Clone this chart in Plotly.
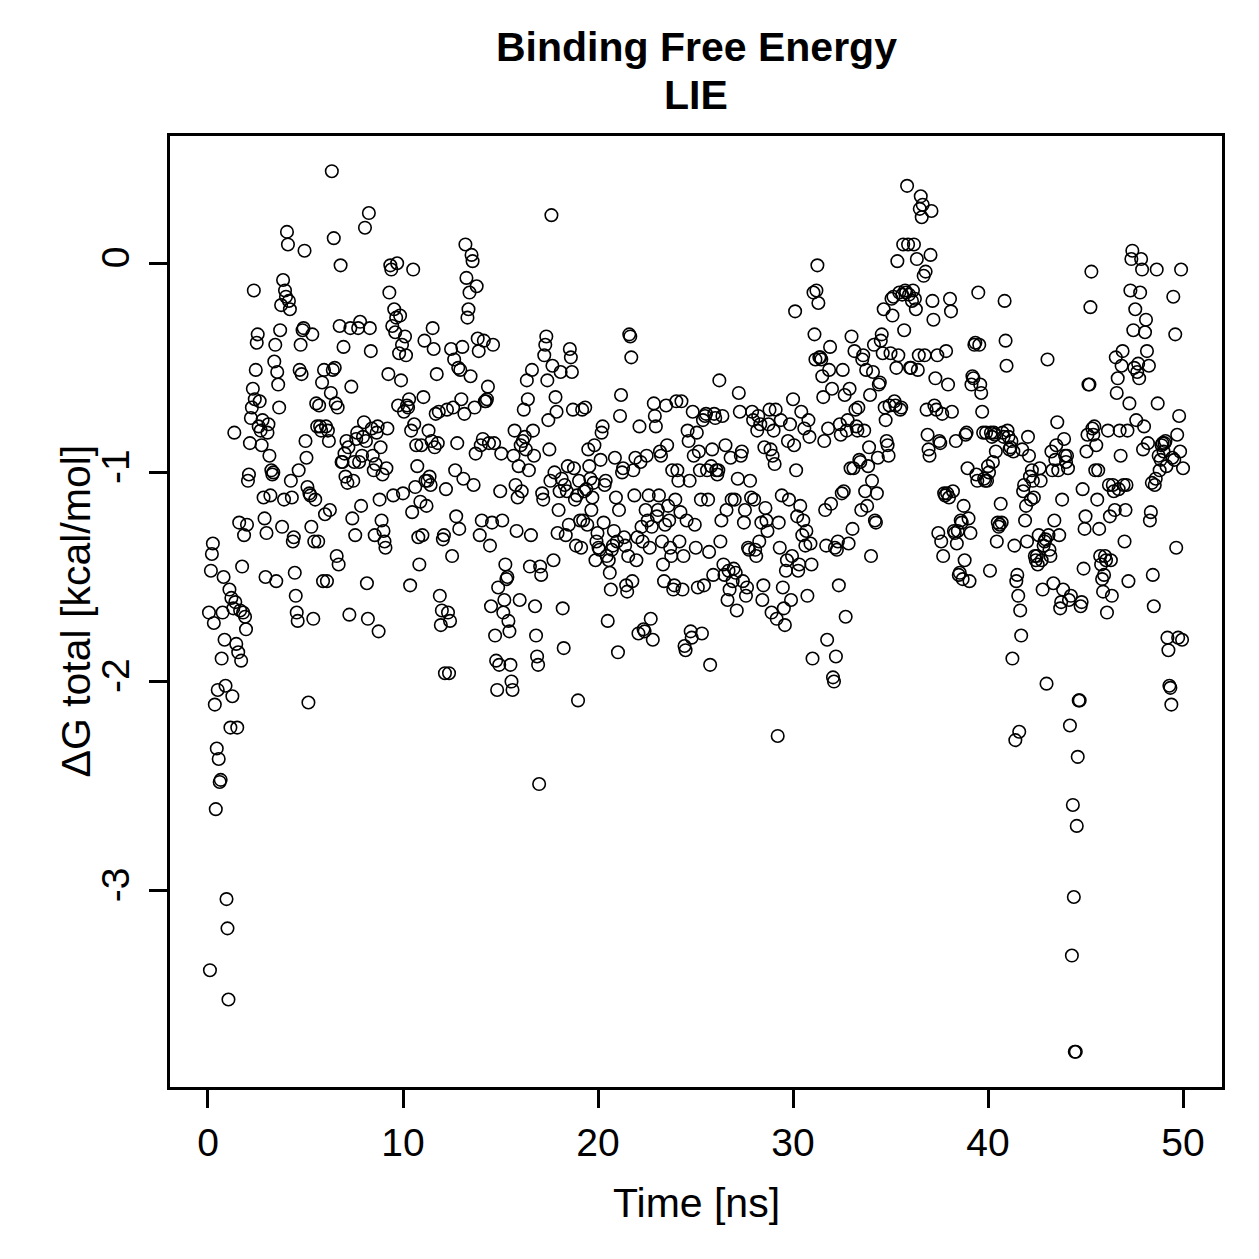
import numpy as np
import plotly.graph_objects as go

# ---- Data: LIE binding free energy (kcal/mol) ----
# Segment A: 0.05 - 10.0 ns
dg_seg_a = [
    -1.67, -3.38, -1.47, -1.39, -1.34, -1.72, -2.11, -2.61, -2.32, -2.04, -2.37, -2.48, -2.47, -1.89, -1.67, -1.50, -1.80, -2.02, -3.04, -3.18,
    -3.52, -1.56, -2.22, -1.60, -2.07, -1.65, -0.81, -1.62, -1.82, -2.22, -1.86, -1.24, -1.66, -1.90, -1.45, -1.67, -1.30, -1.69, -1.75, -1.25,
    -1.04, -1.01, -0.86, -0.74, -0.69, -0.60, -0.13, -0.65, -0.51, -0.38, -0.34, -0.78, -0.66, -0.80, -0.87, -0.75, -1.12, -1.22, -1.50, -1.29,
    -0.81, -0.77, -0.92, -1.11, -0.99, -1.01, -1.00, -0.47, -0.39, -1.52, -0.52, -0.58, -0.69, -0.32, -0.20, -1.26, -0.08, -1.13, -0.13, -0.16,
    0.15, 0.09, -0.18, -0.22, -1.04, -1.12, -1.33, -1.31, -1.48, -1.59, -1.67, -1.71, -0.99, -0.51, -0.39, -0.53, -0.32, -0.31, 0.06, -0.85,
    -0.93, -1.07, -2.10, -1.10, -1.11, -1.26, -0.34, -1.70, -1.33, -1.13, -0.67, -0.78, -1.33, -0.68, -0.78, -0.80, -0.57, -1.52, -0.51, -1.20,
    -0.78, -1.52, -0.80, -0.85, -1.18, -0.62, 0.44, -0.51, 0.12, -0.50, -0.67, -1.40, -0.69, -1.44, -0.30, -0.01, -0.95, -0.95, -0.40, -0.91,
    -1.02, -0.85, -1.05, -0.88, -1.68, -0.31, -0.59, -1.22, -1.04, -0.95, -1.30, -0.84, -0.81, -0.31, -0.95, -0.28, -1.16, -0.92, -0.83, -0.76,
    0.17, -0.85, -1.53, -1.70, 0.24, -0.31, -0.42, -0.79, -0.92, -0.99, -1.30, -0.96, -0.81, -0.78, -1.76, -1.13, -0.88, -1.23, -1.01, -1.28,
    -1.33, -1.36, -0.98, -0.79, -0.53, -0.14, -0.01, -0.03, -0.30, -1.11, -0.22, -0.33, -0.26, 0.00, -0.68, -0.43, -0.25, -0.56, -0.39, -1.10,
]

# Segment B: 10.05 - 31.0 ns
dg_seg_b = [
    -0.71, -0.35, -0.44, -0.68, -0.69, -0.65, -1.54, -0.80, -1.19, -0.03, -0.77, -1.07, -0.87, -0.97, -1.31, -1.44, -1.14, -0.87, -1.30, -0.64,
    -0.37, -1.04, -1.16, -1.04, -0.80, -1.02, -1.06, -0.85, -0.31, -0.41, -0.88, -0.72, -0.53, -0.86, -0.71, -1.59, -1.73, -1.66, -1.32, -1.30,
    -1.96, -1.08, -0.70, -1.67, -1.96, -1.71, -0.41, -1.40, -0.69, -0.46, -0.99, -1.21, -0.86, -0.50, -1.27, -0.51, -0.65, -0.40, -1.03, -0.72,
    0.09, -0.07, -0.26, -0.22, -0.14, -0.54, 0.04, 0.01, -1.06, -0.69, -0.91, -0.11, -0.36, -0.42, -1.30, -0.87, -1.23, -0.84, -0.37, -0.66,
    -0.66, -0.65, -0.59, -0.86, -1.35, -1.64, -1.24, -0.39, -0.86, -1.78, -1.90, -2.04, -1.55, -1.92, -1.09, -0.91, -1.23, -1.67, -1.61, -1.44,
    -1.51, -1.50, -1.71, -1.76, -1.92, -2.00, -2.04, -0.92, -0.80, -1.06, -1.28, -1.12, -0.97, -1.61, -0.87, -1.09, -0.85, -0.70, -0.83, -0.89,
    -0.56, -0.65, -0.99, -1.45, -1.30, -0.51, -0.80, -0.92, -1.64, -1.78, -1.88, -1.92, -2.49, -1.45, -1.49, -1.10, -1.13, -0.44, -0.39, -0.35,
    -0.56, -0.75, -0.89, -1.04, 0.23, -0.49, -1.42, -1.00, -0.64, -0.71, -1.29, -1.18, -1.09, -0.52, -1.03, -1.65, -1.84, -1.06, -1.30, -1.09,
    -0.97, -1.25, -0.41, -0.45, -0.52, -0.70, -0.98, -1.13, -1.35, -1.11, -2.09, -1.04, -1.23, -1.36, -0.70, -1.23, -1.09, -0.69, -1.08, -1.25,
    -0.89, -0.97, -1.03, -1.18, -1.12, -1.05, -0.87, -1.42, -1.33, -1.29, -1.36, -1.37, -0.94, -0.81, -0.78, -1.24, -1.06, -1.04, -1.40, -1.71,
    -1.42, -1.48, -1.56, -1.37, -1.35, -1.28, -0.93, -1.12, -1.33, -1.86, -1.18, -0.73, -0.63, -1.00, -0.98, -1.31, -1.35, -1.54, -1.57, -1.40,
    -0.34, -0.35, -0.45, -1.52, -0.99, -1.11, -0.93, -1.42, -1.31, -1.77, -0.78, -0.95, -1.26, -1.33, -1.75, -1.76, -1.18, -0.92, -1.23, -1.11,
    -1.36, -1.70, -1.26, -1.80, -0.67, -0.73, -0.78, -1.21, -1.18, -1.11, -0.90, -0.92, -1.33, -1.44, -1.52, -1.25, -0.68, -0.87, -1.16, -1.23,
    -1.36, -1.40, -0.99, -1.56, -1.54, -1.13, -0.66, -0.99, -1.04, -1.33, -1.19, -0.66, -1.56, -1.40, -1.83, -1.85, -1.23, -0.80, -0.85, -1.04,
    -1.76, -1.79, -0.71, -0.92, -1.25, -1.36, -0.81, -1.55, -0.90, -0.99, -1.13, -1.77, -0.75, -1.54, -0.73, -0.72, -0.99, -1.13, -1.38, -1.92,
    -0.97, -0.89, -1.49, -0.72, -0.74, -0.99, -1.01, -0.99, -0.56, -1.33, -1.23, -0.73, -1.44, -1.49, -0.87, -1.18, -1.61, -1.47, -1.56, -0.93,
    -1.13, -1.52, -1.46, -1.13, -1.48, -1.66, -1.03, -0.62, -0.71, -0.92, -0.90, -1.52, -1.24, -1.18, -1.59, -1.55, -1.36, -1.37, -1.04, -1.12,
    -0.71, -0.75, -1.13, -1.37, -1.40, -0.80, -0.73, -1.33, -0.77, -1.24, -1.61, -1.54, -0.88, -1.17, -1.23, -1.28, -0.77, -0.70, -0.89, -1.67,
    -0.92, -0.80, -0.96, -0.70, -1.70, -2.26, -1.24, -1.36, -0.75, -1.11, -1.55, -1.65, -1.73, -1.47, -1.42, -0.85, -1.13, -0.77, -1.61, -1.40,
    -0.65, -0.87, -0.23, -0.99, -1.21, -1.47, -1.44, -1.16, -0.71, -1.30, -1.23, -0.79, -1.35, -1.28, -1.59, -0.75, -0.83, -1.34, -1.44, -1.89,
]

# Segment C: 31.05 - 50.0 ns
dg_seg_c = [
    -0.14, -0.34, -0.46, -0.13, -0.01, -0.19, -0.45, -0.45, -0.46, -0.54, -0.64, -0.85, -1.18, -1.35, -1.80, -0.79, -0.51, -0.40, -1.15, -0.60,
    -1.98, -2.00, -1.36, -1.88, -1.37, -1.33, -1.54, -0.77, -0.82, -1.10, -0.51, -1.09, -0.63, -1.69, -0.80, -0.75, -1.34, -0.60, -0.98, -0.35,
    -1.27, -0.98, -0.42, -0.70, -0.78, -0.80, -0.69, -0.94, -0.95, -1.18, -0.46, -0.44, -0.80, -1.09, -0.51, -1.16, -0.97, -0.88, -0.63, -1.40,
    -1.04, -0.52, -0.39, -1.23, -1.24, -1.10, -0.93, -0.58, -0.57, -0.37, -0.34, -0.43, -0.22, -0.69, -0.75, -0.85, -0.87, -0.92, -0.68, -0.43,
    -0.17, -0.25, -0.16, -0.66, -0.68, -0.50, 0.01, -0.44, -0.14, -0.70, -0.69, -0.15, 0.09, -0.32, -0.13, -0.14, 0.37, 0.09, -0.15, -0.50,
    -0.50, -0.18, -0.13, 0.09, -0.17, -0.22, 0.02, -0.51, -0.44, 0.26, 0.32, 0.22, 0.28, -0.06, -0.44, -0.04, -0.70, -0.82, -0.89, -0.92,
    0.04, 0.25, -0.18, -0.27, -0.68, -0.55, -0.70, -0.44, -1.29, -0.85, -0.86, -1.33, -0.72, -1.40, -1.10, -1.11, -0.42, -1.10, -0.58, -1.12,
    -0.17, -0.23, -0.71, -1.09, -1.28, -1.29, -0.85, -1.34, -1.28, -1.49, -1.48, -1.23, -1.24, -1.51, -1.16, -1.42, -0.82, -0.81, -0.98, -1.22,
    -1.52, -1.29, -0.58, -0.54, -0.55, -0.39, -0.38, -1.01, -1.04, -0.14, -0.39, -0.58, -0.62, -0.71, -0.81, -1.03, -1.04, -0.81, -1.04, -0.97,
    -1.00, -1.47, -0.81, -0.83, -0.95, -0.81, -0.82, -0.90, -1.33, -1.24, -1.26, -1.25, -1.15, -1.24, -0.81, -0.83, -0.18, -0.37, -0.49, -0.80,
    -0.83, -0.89, -0.88, -0.85, -1.89, -0.90, -1.35, -2.28, -1.52, -1.49, -1.59, -2.24, -1.66, -1.78, -0.89, -1.09, -1.06, -1.23, -1.16, -1.33,
    -0.83, -0.92, -1.02, -1.13, -0.99, -1.04, -1.12, -1.40, -1.42, -1.40, -1.44, -1.30, -0.98, -1.04, -1.42, -1.56, -1.35, -1.33, -1.32, -2.01,
    -0.46, -1.30, -1.37, -1.40, -0.90, -0.99, -1.53, -1.23, -0.94, -0.87, -0.76, -0.99, -1.30, -1.65, -1.62, -1.13, -1.56, -0.84, -0.92, -0.95,
    -0.92, -0.98, -1.61, -2.21, -1.59, -3.31, -2.59, -3.03, -3.77, -3.77, -2.69, -2.36, -2.09, -2.09, -1.64, -1.62, -1.08, -1.46, -1.27, -1.21,
    -0.90, -0.82, -0.58, -0.58, -0.21, -0.04, -0.79, -0.82, -0.78, -0.99, -0.87, -1.13, -0.99, -1.27, -1.40, -1.44, -1.51, -1.57, -1.49, -1.40,
    -1.42, -1.67, -0.80, -1.06, -1.21, -1.42, -1.59, -1.06, -1.09, -1.18, -0.45, -0.62, -0.55, -1.08, -0.80, -0.92, -0.49, -0.42, -1.06, -1.33,
    -1.18, -1.06, -0.80, -1.52, -0.67, -0.13, 0.02, 0.06, -0.32, -0.50, -0.22, -0.75, -0.52, -0.48, -0.55, -0.14, 0.02, -0.03, -0.89, -0.78,
    -0.33, -0.27, -0.42, -0.86, -0.49, -1.23, -1.19, -1.05, -1.49, -1.64, -1.06, -1.03, -0.03, -0.67, -0.92, -0.99, -0.94, -0.87, -0.86, -0.90,
    -0.86, -0.85, -0.97, -1.79, -1.85, -2.02, -2.03, -2.11, -0.93, -0.16, -0.94, -0.34, -1.36, -0.82, -1.79, -0.73, -0.90, -0.03, -1.80, -0.98,
]

# time span (ns) covered by each segment (frames sampled uniformly inside)
segment_start_ns = [0.05, 10.05, 31.05]
segment_end_ns = [10.0, 31.0, 50.0]

x_tick_vals = [0, 10, 20, 30, 40, 50]
x_tick_text = ["0", "10", "20", "30", "40", "50"]
y_tick_vals = [-3, -2, -1, 0]
y_tick_text = ["-3", "-2", "-1", "0"]

segments = [dg_seg_a, dg_seg_b, dg_seg_c]
time_ns = np.concatenate([
    np.linspace(s, e, len(v)) for s, e, v in zip(segment_start_ns, segment_end_ns, segments)
])
dg_total = np.concatenate([np.array(v, dtype=float) for v in segments])

# R-style 4% axis extension
def r_range(v):
    lo, hi = float(np.min(v)), float(np.max(v))
    pad = 0.04 * (hi - lo)
    return [lo - pad, hi + pad]

FONT = "Liberation Sans, Arial, Helvetica, sans-serif"

fig = go.Figure()
fig.add_trace(go.Scatter(
    x=time_ns, y=dg_total, mode="markers",
    marker=dict(symbol="circle-open", size=12.5, color="black", line=dict(width=1.6, color="black")),
    showlegend=False, hoverinfo="x+y",
))

axis_common = dict(
    showgrid=False, zeroline=False, showline=True, mirror=True,
    linecolor="black", linewidth=2.5, ticks="outside", ticklen=18, tickwidth=2.5,
    tickcolor="black", tickfont=dict(family=FONT, size=39, color="black"),
)

fig.update_layout(
    width=1259, height=1259,
    margin=dict(l=170, r=37, t=136, b=172),
    paper_bgcolor="white", plot_bgcolor="white",
    font=dict(family=FONT, color="black"),
    xaxis=dict(range=r_range(time_ns), tickvals=x_tick_vals, ticktext=x_tick_text,
               ticklabelstandoff=1, **axis_common),
    yaxis=dict(range=r_range(dg_total), tickvals=y_tick_vals, ticktext=y_tick_text,
               tickangle=-90, ticklabelstandoff=5, **axis_common),
    annotations=[
        dict(text="<b>Binding Free Energy</b>", xref="paper", yref="paper", x=0.5, y=1.0936,
             xanchor="center", yanchor="middle", showarrow=False,
             font=dict(family=FONT, size=41, color="black")),
        dict(text="<b>LIE</b>", xref="paper", yref="paper", x=0.5, y=1.0431,
             xanchor="center", yanchor="middle", showarrow=False,
             font=dict(family=FONT, size=41, color="black")),
        dict(text="Time [ns]", xref="paper", yref="paper", x=0.5, y=-0.122,
             xanchor="center", yanchor="middle", showarrow=False,
             font=dict(family=FONT, size=41, color="black")),
        dict(text="ΔG total [kcal/mol]", xref="paper", yref="paper", x=-0.0903, y=0.5,
             xanchor="center", yanchor="middle", textangle=-90, showarrow=False,
             font=dict(family=FONT, size=41, color="black")),
    ],
)

fig.write_html("out.html")
